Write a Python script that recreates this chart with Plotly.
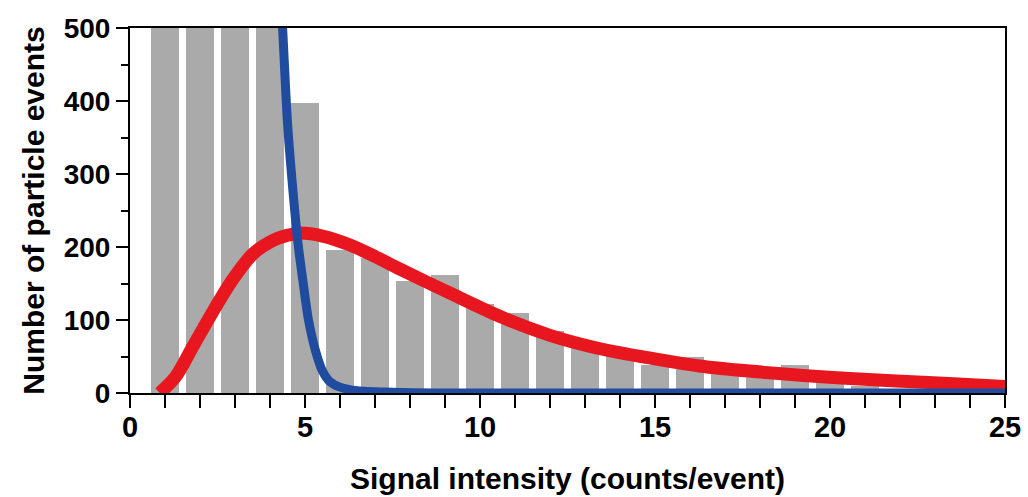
import plotly.graph_objects as go

# Histogram of particle events per signal-intensity bin
bin_centers = [1, 2, 3, 4, 5, 6, 7, 8, 9, 10, 11, 12,
               13, 14, 15, 16, 17, 18, 19, 20, 21, 22, 23, 24]
event_counts = [980, 870, 720, 560, 397, 196, 185, 153, 161, 122, 109, 85,
                64, 55, 39, 49, 38, 33, 38, 17, 10, 5, 3, 2]

# Background (dissolved signal) fit curve
bg_x = [4.2, 4.36, 4.5, 4.65, 4.8, 4.95, 5.1, 5.3, 5.5, 5.7, 6.0, 6.5, 7.5, 9.0, 25.0]
bg_y = [640, 500, 370, 280, 205, 150, 100, 58, 30, 16, 8, 3, 1, 0, 0]

# Particle signal distribution fit curve
fit_x = [0.85, 1.3, 1.8, 2.35, 2.9, 3.5, 4.0, 4.5, 4.85, 5.5, 6.27, 7.0, 7.7, 9.13,
         10.56, 12.0, 13.4, 14.84, 16.27, 17.7, 20.56, 23.4, 25.0]
fit_y = [0, 22, 64, 110, 153, 190, 207, 216, 219, 215, 203, 187, 170, 137,
         105, 79, 61, 48, 37, 30, 20, 13, 9]

x_title = "Signal intensity (counts/event)"
y_title = "Number of particle events"

FONT = "Liberation Sans, Arial, sans-serif"
BAR_GRAY = "#aaaaaa"
FIT_RED = "#e8161e"
BG_BLUE = "#1f4c9e"

fig = go.Figure()
fig.add_trace(go.Bar(
    x=bin_centers, y=event_counts, width=0.8,
    marker=dict(color=BAR_GRAY, line=dict(width=0)),
    showlegend=False,
))
fig.add_trace(go.Scatter(
    x=fit_x, y=fit_y, mode="lines",
    line=dict(color=FIT_RED, width=13, shape="spline", smoothing=0.8),
    showlegend=False,
))
fig.add_trace(go.Scatter(
    x=bg_x, y=bg_y, mode="lines",
    line=dict(color=BG_BLUE, width=9, shape="spline", smoothing=0.8),
    showlegend=False,
))

x_tick_font = dict(family=FONT, size=29, color="black", weight="bold")
y_tick_font = dict(family=FONT, size=28, color="black", weight="bold")
title_font = dict(family=FONT, size=30, color="black", weight="bold")

fig.update_layout(
    width=1028, height=497,
    margin=dict(l=130, r=23, t=28, b=104),
    paper_bgcolor="white", plot_bgcolor="white",
    bargap=0,
    font=dict(family=FONT, color="black"),
    xaxis=dict(
        range=[0, 25], dtick=5, tick0=0, automargin=False,
        ticks="outside", ticklen=13, tickwidth=2, tickcolor="black",
        minor=dict(dtick=1, ticks="outside", ticklen=13, tickwidth=2, tickcolor="black"),
        showline=True, linecolor="black", linewidth=2, mirror=True,
        showgrid=False, zeroline=False,
        tickfont=x_tick_font, ticklabelstandoff=-6,
        title=dict(text=x_title, font=title_font, standoff=26),
    ),
    yaxis=dict(
        range=[0, 500], dtick=100, tick0=0, automargin=False,
        ticks="outside", ticklen=12, tickwidth=2, tickcolor="black",
        minor=dict(dtick=50, ticks="outside", ticklen=7, tickwidth=2, tickcolor="black"),
        showline=True, linecolor="black", linewidth=2, mirror=True,
        showgrid=False, zeroline=False,
        tickfont=y_tick_font,
        title=dict(text=y_title, font=title_font, standoff=10),
    ),
)

fig.write_html("out.html")
